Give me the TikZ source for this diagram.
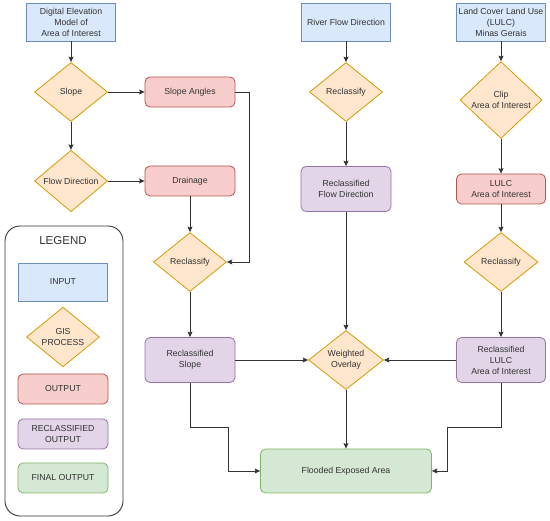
\documentclass[tikz,border=0pt]{standalone}
\usepackage{fontspec}
\setmainfont{Liberation Sans}
\usetikzlibrary{arrows.meta,calc,shapes.geometric}
\definecolor{inputfill}{HTML}{DAE8FC}
\definecolor{inputline}{HTML}{6C8EBF}
\definecolor{procfill}{HTML}{FFE6CC}
\definecolor{procline}{HTML}{D79B00}
\definecolor{outfill}{HTML}{F8CECC}
\definecolor{outline}{HTML}{B85450}
\definecolor{reclfill}{HTML}{E1D5E7}
\definecolor{reclline}{HTML}{9673A6}
\definecolor{finfill}{HTML}{D5E8D4}
\definecolor{finline}{HTML}{82B366}
\definecolor{inkgray}{HTML}{333333}

\begin{document}
\begin{tikzpicture}[x=1pt,y=-1pt,
  every node/.style={font=\fontsize{8.7}{11}\selectfont,text=inkgray,align=center,inner sep=1pt},
  inputbox/.style={draw=inputline,fill=inputfill,line width=0.8pt,minimum width=89pt,minimum height=38pt},
  procbox/.style={diamond,draw=procline,fill=procfill,line width=0.8pt,inner sep=0pt,minimum width=73pt,minimum height=59pt},
  outbox/.style={draw=outline,fill=outfill,line width=0.8pt,rounded corners=5pt,minimum width=90pt,minimum height=30pt},
  reclbox/.style={draw=reclline,fill=reclfill,line width=0.8pt,rounded corners=5pt,minimum width=90pt,minimum height=45pt},
  finalbox/.style={draw=finline,fill=finfill,line width=0.8pt,rounded corners=5pt,minimum width=90pt,minimum height=30pt},
  link/.style={draw=inkgray,line width=0.8pt,-{Stealth[length=5.5pt,width=5pt,inset=1pt]}}]
\useasboundingbox (0,0) rectangle (550,521);

% legend
\draw[draw=inkgray,line width=0.9pt,rounded corners=15pt,fill=white] (5,226) rectangle (123,516);
\node[font=\fontsize{11.5}{13}\selectfont] (legtitle) at (63,241) {LEGEND};
\node[inputbox] (leginput) at (63,282) {INPUT};
\node[procbox] (legproc) at (63,337) {GIS\\PROCESS};
\node[outbox] (legout) at (63,389) {OUTPUT};
\node[reclbox,minimum height=30pt] (legrecl) at (63,434) {RECLASSIFIED\\OUTPUT};
\node[finalbox] (legfinal) at (63,478) {FINAL OUTPUT};

% left column: elevation model
\node[inputbox] (dem) at (71,22) {Digital Elevation\\Model of\\Area of Interest};
\node[procbox] (slope) at (71,92) {Slope};
\node[outbox] (slopeang) at (190,92) {Slope Angles};
\node[procbox] (flowdir) at (71,181) {Flow Direction};
\node[outbox] (drain) at (190,181) {Drainage};
\node[procbox] (reclA) at (190,262) {Reclassify};
\node[reclbox] (rslope) at (190,360) {Reclassified\\Slope};

% middle column: river flow
\node[inputbox] (river) at (346,22) {River Flow Direction};
\node[procbox] (reclM) at (346,92) {Reclassify};
\node[reclbox] (rflow) at (346,189) {Reclassified\\Flow Direction};
\node[procbox,minimum width=75pt] (wov) at (346,360) {Weighted\\Overlay};
\node[finalbox,minimum width=171pt,minimum height=44pt] (flood) at (346,471) {Flooded Exposed Area};

% right column: land cover
\node[inputbox] (lulc) at (501,22) {Land Cover Land Use\\(LULC)\\Minas Gerais};
\node[procbox,minimum width=82pt,minimum height=74pt] (clip) at (501,100) {Clip\\Area of Interest};
\node[outbox,minimum width=89pt] (lulcaoi) at (501,189) {LULC\\Area of Interest};
\node[procbox,minimum width=74pt] (reclR) at (501,262) {Reclassify};
\node[reclbox,minimum width=89pt] (rlulc) at (501,360) {Reclassified\\LULC\\Area of Interest};

% connectors
\draw[link] (dem) -- (slope);
\draw[link] (slope) -- (slopeang);
\draw[link] (slope) -- (flowdir);
\draw[link] (flowdir) -- (drain);
\draw[link] (drain) -- (reclA);
\draw[link] (slopeang.east) -- ++(14,0) |- (reclA.east);
\draw[link] (reclA) -- (rslope);
\draw[link] (rslope.east) -- (wov.west);
\draw[link] (rslope.south) -- ++(0,45) -| ($(flood.west)+(-32,0)$) -- (flood.west);
\draw[link] (river) -- (reclM);
\draw[link] (reclM) -- (rflow);
\draw[link] (rflow) -- (wov);
\draw[link] (wov) -- (flood);
\draw[link] (lulc) -- (clip);
\draw[link] (clip) -- (lulcaoi);
\draw[link] (lulcaoi) -- (reclR);
\draw[link] (reclR) -- (rlulc);
\draw[link] (rlulc.west) -- (wov.east);
\draw[link] (rlulc.south) -- ++(0,45) -| ($(flood.east)+(15,0)$) -- (flood.east);
\end{tikzpicture}
\end{document}
